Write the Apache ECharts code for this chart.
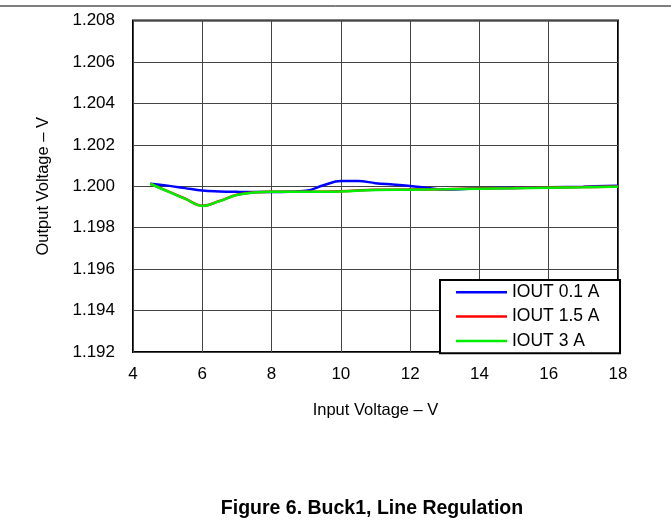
<!DOCTYPE html>
<html>
<head>
<meta charset="utf-8">
<script src="https://cdn.jsdelivr.net/npm/echarts@6/dist/echarts.min.js"></script>
<style>
html,body{margin:0;padding:0;background:#fff;}
#c{width:671px;height:529px;}
</style>
</head>
<body>
<div id="c"></div>
<script>
const xTicks = [4, 6, 8, 10, 12, 14, 16, 18];
const blueX = [4.5, 5, 5.5, 6, 6.5, 7, 7.5, 8, 8.5, 9, 9.5, 10, 10.5, 11, 11.5, 12, 12.5, 13, 14, 15, 16, 17, 18];
const blueY = [1.20012, 1.20003, 1.19991, 1.19979, 1.19975, 1.19973, 1.19972, 1.19972, 1.19973, 1.19978, 1.20005, 1.20025, 1.20025, 1.20015, 1.20008, 1.20001, 1.19992, 1.19984, 1.1999, 1.19992, 1.19995, 1.19998, 1.20003];
const greenX = [4.5, 5, 5.5, 6, 6.5, 7, 7.5, 8, 9, 10, 11, 12, 13, 14, 15, 16, 17, 18];
const greenY = [1.20012, 1.19975, 1.1994, 1.19905, 1.19928, 1.19958, 1.1997, 1.19973, 1.19973, 1.19975, 1.19982, 1.19983, 1.19985, 1.19988, 1.1999, 1.19993, 1.19995, 1.19998];
const redX = greenX;
const redY = [1.20012, 1.19976, 1.19941, 1.19906, 1.19929, 1.19959, 1.19971, 1.19974, 1.19974, 1.19976, 1.19983, 1.19984, 1.19986, 1.19989, 1.19991, 1.19994, 1.19996, 1.19999];
const seriesNames = ['IOUT 0.1 A', 'IOUT 1.5 A', 'IOUT 3 A'];
const seriesColors = ['#0000ff', '#ff0000', '#00ee00'];

const zip = (xs, ys) => xs.map((x, i) => [x, ys[i]]);
const chart = echarts.init(document.getElementById('c'));
const font = 'Liberation Sans, Arial, sans-serif';
chart.setOption({
  animation: false,
  backgroundColor: '#fff',
  graphic: [
    {type: 'line', shape: {x1: 0, y1: 6, x2: 671, y2: 6}, style: {stroke: '#000', lineWidth: 1}},
    {type: 'text', x: 372, y: 509, style: {text: 'Figure 6. Buck1, Line Regulation', font: 'bold 19.5px ' + font, fill: '#000', align: 'center', verticalAlign: 'middle'}}
  ],
  grid: {left: 133, right: 53, top: 20.5, bottom: 177, show: true, borderColor: '#000', borderWidth: 2, backgroundColor: 'transparent'},
  legend: {
    orient: 'vertical', left: 440, top: 280,
    padding: [3.3, 20.5, 3.3, 16],
    itemGap: 6.3, itemWidth: 51, itemHeight: 2.5,
    backgroundColor: '#fff', borderColor: '#000', borderWidth: 2, borderRadius: 0,
    icon: 'rect',
    textStyle: {fontFamily: font, fontSize: 17.5, color: '#000', lineHeight: 17.5},
    data: seriesNames
  },
  xAxis: {
    type: 'value', min: 4, max: 18, interval: 2,
    name: 'Input Voltage – V', nameLocation: 'middle', nameGap: 50,
    nameTextStyle: {fontFamily: font, fontSize: 16.5, color: '#000'},
    axisLine: {show: false}, axisTick: {show: false},
    axisLabel: {fontFamily: font, fontSize: 17, color: '#000', margin: 14,
      formatter: v => xTicks.includes(v) ? String(v) : ''},
    splitLine: {show: true, lineStyle: {color: '#444', width: 1}}
  },
  yAxis: {
    type: 'value', min: 1.192, max: 1.208, interval: 0.002,
    name: 'Output Voltage – V', nameLocation: 'middle', nameGap: 81, nameRotate: 90,
    nameTextStyle: {fontFamily: font, fontSize: 16.5, color: '#000'},
    axisLine: {show: false}, axisTick: {show: false},
    axisLabel: {fontFamily: font, fontSize: 17, color: '#000', margin: 18, formatter: v => v.toFixed(3)},
    splitLine: {show: true, lineStyle: {color: '#444', width: 1}}
  },
  series: [
    {name: seriesNames[0], type: 'line', data: zip(blueX, blueY), smooth: 0.4, showSymbol: false, lineStyle: {color: seriesColors[0], width: 2.5}, itemStyle: {color: seriesColors[0]}, z: 2},
    {name: seriesNames[1], type: 'line', data: zip(redX, redY), smooth: 0.4, showSymbol: false, lineStyle: {color: seriesColors[1], width: 2.5}, itemStyle: {color: seriesColors[1]}, z: 3},
    {name: seriesNames[2], type: 'line', data: zip(greenX, greenY), smooth: 0.4, showSymbol: false, lineStyle: {color: seriesColors[2], width: 2.5}, itemStyle: {color: seriesColors[2]}, z: 4}
  ]
});
</script>
</body>
</html>
